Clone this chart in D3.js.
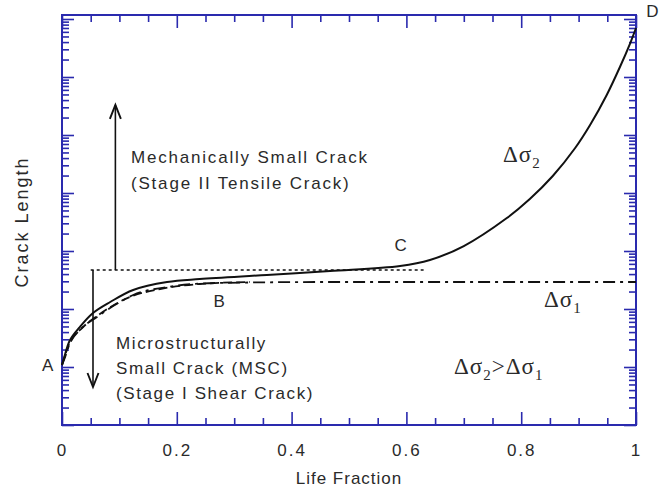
<!DOCTYPE html>
<html>
<head>
<meta charset="utf-8">
<script src="https://cdn.jsdelivr.net/npm/d3@7"></script>
<style>
  html, body { margin: 0; padding: 0; background: #fff; }
  svg { display: block; }
  text { font-family: "Liberation Sans", Arial, sans-serif; fill: #2a2a2a; }
</style>
</head>
<body>
<div id="chart"></div>
<script>
// ---- data ----
// Life fraction (x) vs crack length (y, log scale)
const solidX = [0, 0.0035, 0.014, 0.031, 0.054, 0.084, 0.124, 0.183, 0.24, 0.357, 0.467, 0.589, 0.641, 0.700, 0.775, 0.815, 0.855, 0.894, 0.920, 0.949, 0.972, 0.990, 1.0];
const solidY = [10.8, 14.3, 29.2, 48.9, 85.3, 132, 213, 292, 329, 386, 452, 551, 700, 1219, 3707, 7884, 19630, 59700, 148700, 489700, 1.487e6, 3.855e6, 7.0e6];

const dashDotX = [0, 0.0035, 0.014, 0.031, 0.061, 0.092, 0.124, 0.183, 0.27, 0.467, 1.0];
const dashDotY = [10.8, 13.2, 25.9, 43.5, 72.8, 117, 174, 239, 281, 292, 292];

const dashedX = [0, 0.014, 0.035, 0.066, 0.118, 0.171, 0.24, 0.327];
const dashedY = [10.8, 27, 47, 82, 161, 221, 270, 292];

const xTickValues = [0, 0.2, 0.4, 0.6, 0.8, 1];
const xTickLabels = ["0", "0.2", "0.4", "0.6", "0.8", "1"];
const xMinorStep = 0.05;

const thresholdY = 470;          // dotted MSC/MC transition level
const thresholdX = [0.05, 0.63];
const arrowUp = { x: 0.093, from: 470, to: 330000 };
const arrowDown = { x: 0.054, from: 470, to: 4.52 };

const pointLabels = [
  { t: "A", x: -0.015, y: 10.8, anchor: "end" },
  { t: "B", x: 0.274, y: 135, anchor: "middle" },
  { t: "C", x: 0.59, y: 1270, anchor: "middle" },
  { t: "D", x: 1.018, y: 1.6e7 * 0.87, anchor: "start" }
];

// ---- layout ----
const W = 660, H = 489;
const M = { left: 62, right: 24, top: 15, bottom: 64 };
const iw = W - M.left - M.right, ih = H - M.top - M.bottom;
const blue = "#2a2aae";

const svg = d3.select("#chart").append("svg").attr("width", W).attr("height", H);
const g = svg.append("g").attr("transform", `translate(${M.left},${M.top})`);

const x = d3.scaleLinear().domain([0, 1]).range([0, iw]);
const yTopExp = ih / 58;   // decades span ~58 px
const y = d3.scaleLog().domain([1, Math.pow(10, yTopExp)]).range([ih, 0]);

// ticks
const allY = y.ticks();
const yMajor = allY.filter(v => Math.abs(Math.log10(v) - Math.round(Math.log10(v))) < 1e-9);
const yMinor = allY.filter(v => !yMajor.includes(v));
const xAll = d3.range(0, 1 + 1e-9, xMinorStep).map(v => +v.toFixed(2));
const xMinor = xAll.filter(v => !xTickValues.some(t => Math.abs(t - v) < 1e-9));

function styleAxis(sel) {
  sel.select(".domain").remove();
  sel.selectAll(".tick line").attr("stroke", blue).attr("stroke-width", 1.6);
  sel.selectAll(".tick text").remove();
}
const axes = [
  [d3.axisLeft(y), yMajor, 12, `translate(0,0)`],
  [d3.axisLeft(y), yMinor, 7, `translate(0,0)`],
  [d3.axisRight(y), yMajor, 12, `translate(${iw},0)`],
  [d3.axisRight(y), yMinor, 7, `translate(${iw},0)`],
  [d3.axisBottom(x), xTickValues, 13, `translate(0,${ih})`],
  [d3.axisBottom(x), xMinor, 7, `translate(0,${ih})`],
  [d3.axisTop(x), xTickValues, 13, `translate(0,0)`],
  [d3.axisTop(x), xMinor, 7, `translate(0,0)`]
];
axes.forEach(([ax, vals, len, tr]) => {
  g.append("g").attr("transform", tr)
    .call(ax.tickValues(vals).tickSize(-len).tickFormat(""))
    .call(styleAxis);
});

g.append("rect").attr("x", 0).attr("y", 0).attr("width", iw).attr("height", ih)
  .attr("fill", "none").attr("stroke", blue).attr("stroke-width", 2);

// x tick labels
const xl = g.append("g").attr("transform", `translate(0,${ih})`)
  .call(d3.axisBottom(x).tickValues(xTickValues).tickSize(0)
    .tickFormat((d, i) => xTickLabels[i]));
xl.select(".domain").remove();
xl.selectAll("text").attr("y", 31).attr("dy", 0)
  .style("font-size", "17px").style("letter-spacing", "2px")
  .style("font-family", "'Liberation Sans', Arial, sans-serif").attr("fill", "#2a2a2a");

// axis titles
svg.append("text").attr("x", M.left + x(0.5)).attr("y", 484)
  .attr("text-anchor", "middle").style("font-size", "17px").style("letter-spacing", "1px")
  .text("Life Fraction");
svg.append("text").attr("transform", `translate(28,${222}) rotate(-90)`)
  .attr("text-anchor", "middle").style("font-size", "18px").style("letter-spacing", "2px")
  .text("Crack Length");

// curves
const line = d3.line().x(d => x(d[0])).y(d => y(d[1])).curve(d3.curveMonotoneX);
const smoothLine = d3.line().x(d => x(d[0])).y(d => y(d[1])).curve(d3.curveCatmullRom.alpha(0.5));
const zip = (a, b) => a.map((v, i) => [v, b[i]]);

g.append("path").datum(zip(dashedX, dashedY)).attr("d", line)
  .attr("fill", "none").attr("stroke", "#111").attr("stroke-width", 1.8)
  .attr("stroke-dasharray", "9,4");
g.append("path").datum(zip(dashDotX, dashDotY)).attr("d", line)
  .attr("fill", "none").attr("stroke", "#111").attr("stroke-width", 1.8)
  .attr("stroke-dasharray", "12,5,3,5");
g.append("path").datum(zip(solidX, solidY)).attr("d", smoothLine)
  .attr("fill", "none").attr("stroke", "#111").attr("stroke-width", 2);

// dotted threshold line
g.append("line").attr("x1", x(thresholdX[0])).attr("x2", x(thresholdX[1]))
  .attr("y1", y(thresholdY)).attr("y2", y(thresholdY))
  .attr("stroke", "#111").attr("stroke-width", 1.5).attr("stroke-dasharray", "3,3");

// arrows
function arrow(a, dir) {
  const ax = x(a.x), y1 = y(a.from), y2 = y(a.to);
  g.append("line").attr("x1", ax).attr("x2", ax).attr("y1", y1).attr("y2", y2)
    .attr("stroke", "#111").attr("stroke-width", 1.6);
  const hl = 14 * dir;
  g.append("path")
    .attr("d", `M${ax - 5.5},${y2 + hl} L${ax},${y2} L${ax + 5.5},${y2 + hl}`)
    .attr("fill", "none").attr("stroke", "#111").attr("stroke-width", 1.9);
}
arrow(arrowUp, 1);
arrow(arrowDown, -1);

// annotation text
const txt = (s, px, py, size, ls, anchor) =>
  svg.append("text").attr("x", px).attr("y", py).attr("text-anchor", anchor || "start")
    .style("font-size", size + "px").style("letter-spacing", ls + "px").text(s);

txt("Mechanically Small Crack", 131, 163, 17, 1.8);
txt("(Stage II Tensile Crack)", 131, 189, 17, 1.8);
txt("Microstructurally", 116, 349, 17, 1.6);
txt("Small Crack (MSC)", 116, 374, 17, 1.6);
txt("(Stage I Shear Crack)", 116, 399, 17, 1.6);

pointLabels.forEach(p => {
  svg.append("text").attr("x", M.left + x(p.x)).attr("y", M.top + y(p.y) + 6)
    .attr("text-anchor", p.anchor).style("font-size", "17px").text(p.t);
});

// Δσ labels (serif)
function dsig(px, py, sub) {
  const t = svg.append("text").attr("x", px).attr("y", py)
    .style("font-family", "'Liberation Serif', 'Times New Roman', serif").style("font-size", "23px")
    .style("letter-spacing", "1px");
  t.append("tspan").text("Δσ");
  t.append("tspan").attr("dy", 6).style("font-size", "15px").text(sub);
  return t;
}
dsig(503, 162, "2");
dsig(544, 307, "1");
const comb = svg.append("text").attr("x", 454).attr("y", 374)
  .style("font-family", "'Liberation Serif', 'Times New Roman', serif").style("font-size", "23px")
  .style("letter-spacing", "1px");
comb.append("tspan").text("Δσ");
comb.append("tspan").attr("dy", 6).style("font-size", "15px").text("2");
comb.append("tspan").attr("dy", -6).text(">Δσ");
comb.append("tspan").attr("dy", 6).style("font-size", "15px").text("1");
</script>
</body>
</html>
